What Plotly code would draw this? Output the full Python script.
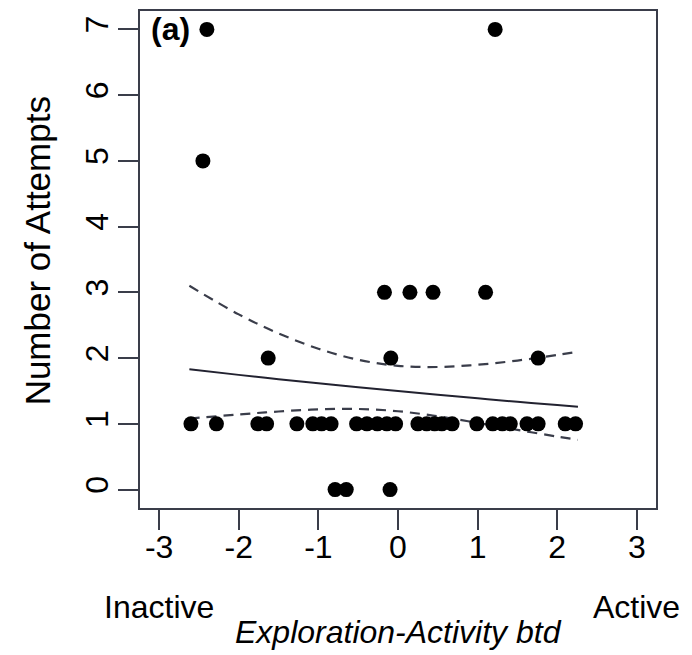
import plotly.graph_objects as go

# ---- data ----
exploration = [
    -2.60, -2.28, -1.76, -1.65, -1.27, -1.07, -0.96, -0.84, -0.52, -0.39,
    -0.26, -0.14, -0.03, 0.25, 0.36, 0.46, 0.55, 0.68, 0.99, 1.19,
    1.31, 1.41, 1.62, 1.76, 2.10, 2.23,
    -0.79, -0.65, -0.10,
    -1.63, -0.09, 1.76,
    -0.17, 0.15, 0.44, 1.10,
    -2.45,
    -2.40, 1.22,
]
attempts = [1] * 26 + [0] * 3 + [2] * 3 + [3] * 4 + [5] + [7] * 2

fit_x = [-2.62, -2.0, -1.5, -1.0, -0.5, 0.0, 0.5, 1.0, 1.5, 2.0, 2.26]
fit_mean = [1.83, 1.745, 1.68, 1.617, 1.556, 1.498, 1.442, 1.388, 1.335, 1.285, 1.26]
fit_upper = [3.10, 2.665, 2.376, 2.143, 1.975, 1.883, 1.865, 1.899, 1.963, 2.048, 2.098]
fit_lower = [1.08, 1.143, 1.188, 1.220, 1.226, 1.192, 1.115, 1.014, 0.908, 0.806, 0.757]

x_ticks = [-3, -2, -1, 0, 1, 2, 3]
x_tick_labels = ["-3", "-2", "-1", "0", "1", "2", "3"]
y_ticks = [0, 1, 2, 3, 4, 5, 6, 7]

FONT = "Liberation Sans, Arial, sans-serif"
LINE = "#3a3d4a"
FS = 32

fig = go.Figure()
fig.add_trace(go.Scatter(x=fit_x, y=fit_upper, mode="lines", line_shape="spline",
                         line=dict(color=LINE, width=2.2, dash="10px,7px"), hoverinfo="skip"))
fig.add_trace(go.Scatter(x=fit_x, y=fit_lower, mode="lines", line_shape="spline",
                         line=dict(color=LINE, width=2.2, dash="10px,7px"), hoverinfo="skip"))
fig.add_trace(go.Scatter(x=fit_x, y=fit_mean, mode="lines", line_shape="spline",
                         line=dict(color="#222230", width=2)))
fig.add_trace(go.Scatter(x=exploration, y=attempts, mode="markers",
                         marker=dict(color="black", size=15, line=dict(width=0))))

fig.update_layout(
    width=692, height=655,
    margin=dict(l=140, r=36, t=9, b=147),
    paper_bgcolor="white", plot_bgcolor="white",
    showlegend=False,
    font=dict(family=FONT, size=FS, color="black"),
)
fig.update_xaxes(range=[-3.24, 3.24], tickvals=x_ticks, ticktext=x_tick_labels,
                 ticks="outside", ticklen=20, ticklabelstandoff=-10,
                 tickwidth=2, tickcolor=LINE, showline=True, linecolor=LINE, linewidth=2,
                 mirror=True, showgrid=False, zeroline=False,
                 tickfont=dict(size=FS, family=FONT))
fig.update_yaxes(range=[-0.28, 7.28], tickvals=y_ticks, ticks="outside", ticklen=20,
                 ticklabelstandoff=-3,
                 tickwidth=2, tickcolor=LINE, showline=True, linecolor=LINE, linewidth=2,
                 mirror=True, showgrid=False, zeroline=False, tickangle=-90,
                 tickfont=dict(size=FS, family=FONT))

fig.add_annotation(text="Number of Attempts", xref="paper", yref="paper", x=-0.199, y=0.517,
                   textangle=-90, showarrow=False, font=dict(size=35, family=FONT),
                   xanchor="center", yanchor="middle")
fig.add_annotation(text="<i>Exploration-Activity btd</i>", xref="x", yref="paper", x=0, y=-0.249,
                   showarrow=False, font=dict(size=FS, family=FONT), yanchor="middle")
fig.add_annotation(text="Inactive", xref="x", yref="paper", x=-3, y=-0.199,
                   showarrow=False, font=dict(size=FS, family=FONT), yanchor="middle")
fig.add_annotation(text="Active", xref="x", yref="paper", x=3, y=-0.199,
                   showarrow=False, font=dict(size=FS, family=FONT), yanchor="middle")
fig.add_annotation(text="<b>(a)</b>", xref="paper", yref="paper", x=0.017, y=0.963,
                   showarrow=False, font=dict(size=FS, family=FONT),
                   xanchor="left", yanchor="middle")

fig.write_html("out.html", post_script="document.body.style.margin='0';",
               config={"displayModeBar": False})
